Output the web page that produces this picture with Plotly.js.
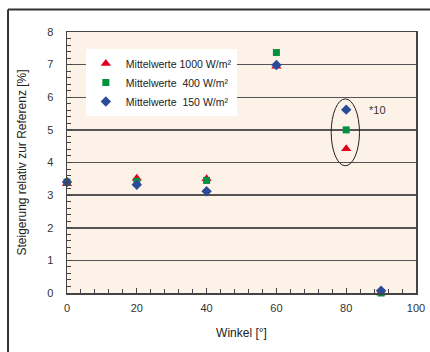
<!DOCTYPE html>
<html><head><meta charset="utf-8">
<script src="https://cdn.plot.ly/plotly-3.0.1.min.js"></script>
<style>body{margin:0;background:#fff}#c{width:430px;height:352px}</style>
</head><body><div id="c"></div>
<script>
const winkel = [0, 20, 40, 60, 80, 90];
const w1000 = [3.35, 3.52, 3.5, 6.95, 4.42, 0.0];
const w400 = [3.4, 3.42, 3.45, 7.37, 5.0, 0.0];
const w150 = [3.4, 3.32, 3.12, 6.99, 5.62, 0.07];
const seriesNames = ['Mittelwerte 1000 W/m²', 'Mittelwerte  400 W/m²', 'Mittelwerte  150 W/m²'];
const fontFam = '"Liberation Sans", Arial, sans-serif';
const traces = [
  {x: winkel, y: w1000, name: seriesNames[0], mode: 'markers', type: 'scatter', cliponaxis: false,
   marker: {symbol: 'triangle-up', size: 9, color: '#e3001b'}},
  {x: winkel, y: w400, name: seriesNames[1], mode: 'markers', type: 'scatter', cliponaxis: false,
   marker: {symbol: 'square', size: 7, color: '#00923f'}},
  {x: winkel, y: w150, name: seriesNames[2], mode: 'markers', type: 'scatter', cliponaxis: false,
   marker: {symbol: 'diamond', size: 8, color: '#2b4a9a'}}
];
const layout = {
  width: 430, height: 352,
  margin: {l: 67, r: 14, t: 32, b: 59},
  paper_bgcolor: '#ffffff', plot_bgcolor: '#fdf2e7',
  font: {family: fontFam, size: 11, color: '#333'},
  showlegend: true,
  legend: {x: 0.054, y: 0.935, xanchor: 'left', yanchor: 'top', bgcolor: '#ffffff',
           font: {size: 10.5, color: '#222'}, itemwidth: 30, tracegroupgap: 0},
  xaxis: {range: [0, 100], dtick: 20, tick0: 0, showgrid: false, zeroline: false,
          ticks: 'inside', ticklen: 5, tickcolor: '#444', showline: true, linecolor: '#444', linewidth: 1.5,
          mirror: true, minor: {dtick: 4, ticks: 'inside', ticklen: 4, tickcolor: '#444'},
          tickfont: {size: 11, color: '#333'}, ticklabelstandoff: 4,
          title: {text: 'Winkel [°]', font: {size: 12, color: '#222'}, standoff: 16}},
  yaxis: {range: [0, 8], dtick: 1, tick0: 0, showgrid: true, gridcolor: '#555', gridwidth: 1.5,
          zeroline: false, ticks: 'inside', ticklen: 5, tickcolor: '#444',
          showline: true, linecolor: '#444', linewidth: 1.5, mirror: true,
          minor: {dtick: 0.2, ticks: 'inside', ticklen: 4, tickcolor: '#444', showgrid: false},
          tickfont: {size: 11, color: '#333'}, ticklabelstandoff: 10,
          title: {text: 'Steigerung relativ zur Referenz [%]', font: {size: 12, color: '#222'}, standoff: 18}},
  shapes: [
    {type: 'circle', xref: 'x', yref: 'y', x0: 75.7, x1: 83.8, y0: 3.9, y1: 5.95,
     line: {color: '#222', width: 1}},
    {type: 'line', xref: 'paper', yref: 'paper', x0: -0.169, x1: -0.169, y0: -0.3, y1: 1.086,
     line: {color: '#333', width: 2}},
    {type: 'line', xref: 'paper', yref: 'paper', x0: -0.169, x1: 1.1, y0: 1.086, y1: 1.086,
     line: {color: '#333', width: 2}}
  ],
  annotations: [
    {x: 86, y: 5.6, xref: 'x', yref: 'y', text: '*10', showarrow: false, xanchor: 'left',
     font: {size: 11, color: '#333'}}
  ]
};
Plotly.newPlot('c', traces, layout, {displayModeBar: false, staticPlot: true});
</script></body></html>
